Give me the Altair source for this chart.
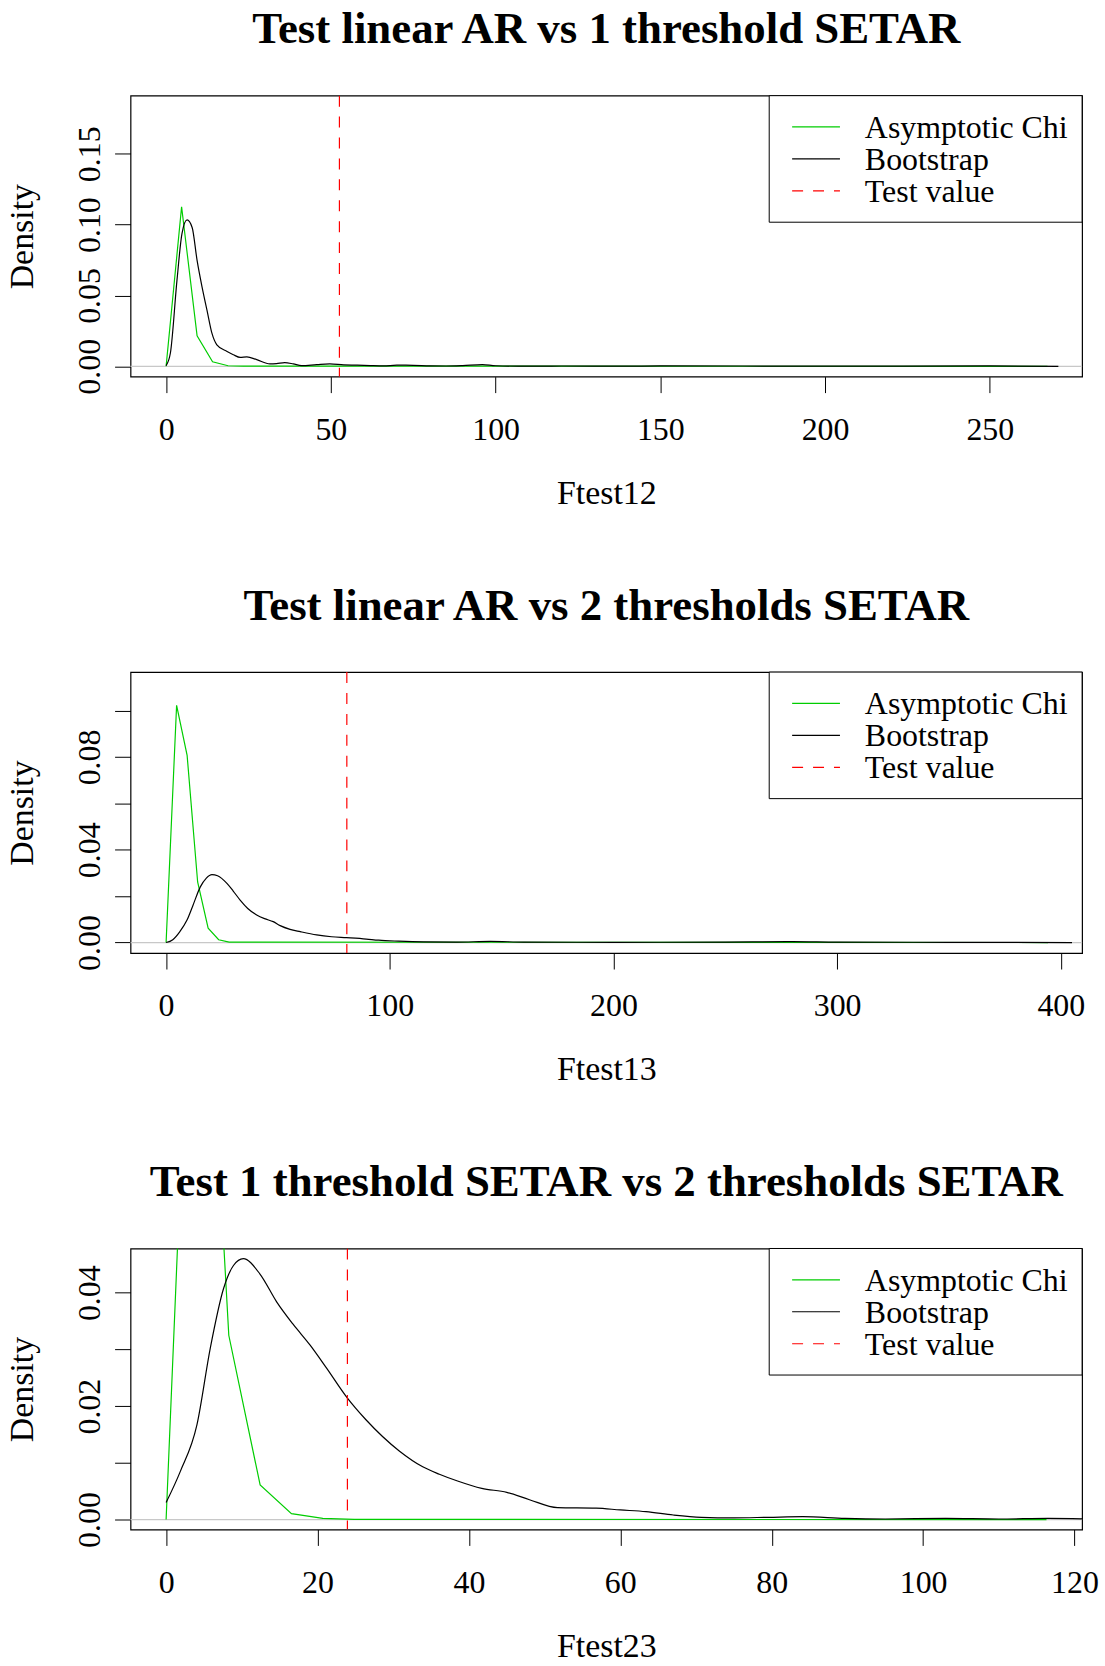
import altair as alt
import pandas as pd

# ---------------- data ----------------
TITLES = ["Test linear AR vs 1 threshold SETAR",
          "Test linear AR vs 2 thresholds SETAR",
          "Test 1 threshold SETAR vs 2 thresholds SETAR"]
XTITLES = ["Ftest12", "Ftest13", "Ftest23"]
LEGEND_LABELS = ["Asymptotic Chi", "Bootstrap", "Test value"]

# Panel 1
GREEN1_X = [0, 4.7, 9.4, 14.1, 18.8, 23.5, 267.5]
GREEN1_Y = [0, 0.1126, 0.0215, 0.0032, 0.0004, 0.0001, 0.0]
BOOT1_X = [0, 1.3, 3.3, 4.8, 6.35, 7.9, 9.4, 10.9, 12.4, 13.9, 15.4, 18.5, 20.4,
           22.5, 24.5, 27.5, 31.5, 33.5, 36.0, 38.6, 41.1, 45.7, 49.7, 53.9, 58,
           62, 66, 70, 75, 80, 85, 90, 96, 100, 110, 120, 140, 150, 200, 250, 270.8]
BOOT1_Y = [0.0005, 0.0094, 0.0608, 0.0935, 0.1033, 0.098, 0.0748, 0.0561, 0.0397,
           0.0234, 0.0152, 0.0105, 0.0082, 0.0063, 0.0066, 0.0047, 0.0017, 0.0019,
           0.0026, 0.0017, 0.0005, 0.0012, 0.0017, 0.0010, 0.0008, 0.0005, 0.0003,
           0.0008, 0.0007, 0.0003, 0.0002, 0.0005, 0.0012, 0.0004, 0.0001, 0.0002,
           0.0001, 0.0003, 0.0001, 0.0003, 0.0]
TEST1 = 52.6

# Panel 2
GREEN2_X = [0, 4.7, 9.4, 14.1, 18.8, 23.5, 28.2, 394.3]
GREEN2_Y = [0, 0.1023, 0.0807, 0.0261, 0.0062, 0.0012, 0.0002, 0.0]
BOOT2_X = [0, 3, 6, 9.35, 12, 15.3, 18, 20.5, 23, 27.2, 30, 33.1, 36.5, 40.5, 44,
           47.9, 51, 55.4, 60, 67.3, 74, 80.6, 89.5, 95, 104, 115, 130, 145, 160,
           200, 250, 280, 300, 350, 405]
BOOT2_Y = [0, 0.0012, 0.0045, 0.0097, 0.016, 0.024, 0.0278, 0.0293, 0.0288, 0.0255,
           0.0222, 0.0183, 0.0147, 0.0119, 0.0103, 0.0090, 0.0073, 0.0057, 0.0047,
           0.0033, 0.0025, 0.0021, 0.0015, 0.0010, 0.0006, 0.0003, 0.0002, 0.0005,
           0.0002, 0.0001, 0.0002, 0.0004, 0.0002, 0.0001, 0.0]
TEST2 = 80.8

# Panel 3
GREEN3_X = [0, 4.14, 8.28, 12.42, 16.56, 20.7, 24.84, 116.3]
GREEN3_Y = [0, 0.132, 0.0325, 0.0061, 0.00105, 0.0002, 0.00003, 0.0]
BOOT3_X = [0, 1.88, 4.07, 5.83, 7.58, 8.9, 10.2, 12.4, 14.6, 16.8, 19.0, 21.2, 23.9,
           26.4, 30.8, 33.9, 36.1, 38.5, 41.7, 45.0, 48, 51.7, 56.8, 60, 63.4, 67,
           70.7, 75, 79.6, 84.1, 89.7, 95, 103, 110, 116.5, 122]
BOOT3_Y = [0.003, 0.0085, 0.0167, 0.0302, 0.0407, 0.0448, 0.046, 0.0433, 0.0384,
           0.0344, 0.0308, 0.0267, 0.0215, 0.0176, 0.0121, 0.0093, 0.0080, 0.0068,
           0.0055, 0.0048, 0.0035, 0.0021, 0.0020, 0.0017, 0.0014, 0.0008, 0.0004,
           0.0003, 0.0004, 0.0005, 0.0002, 0.0001, 0.0002, 0.0001, 0.0002, 0.0001]
TEST3 = 23.95

X_TICKS = [[0, 50, 100, 150, 200, 250], [0, 100, 200, 300, 400],
           [0, 20, 40, 60, 80, 100, 120]]
Y_TICKS = [[0, 0.05, 0.10, 0.15], [0, 0.02, 0.04, 0.06, 0.08, 0.10],
           [0, 0.01, 0.02, 0.03, 0.04]]
Y_LABEL_STEP = [5, 4, 2]  # labels shown every n hundredths
X_DOMAINS = [[-10.8, 278.0], [-15.9, 409.5], [-4.7, 121.0]]
Y_DOMAINS = [[-0.0073, 0.191], [-0.00454, 0.1166], [-0.00175, 0.0478]]

# ---------------- styling ----------------
FONT = "Liberation Serif"
GREEN = "#00cd00"
RED = "#ff0000"
W, H = 955, 282
FS = 34      # axis titles
FSL = 32     # legend text
FSN = 32     # tick numbers


def panel(i, gx, gy, bx, by, test):
    xs = alt.Scale(domain=X_DOMAINS[i], nice=False, zero=False)
    ys = alt.Scale(domain=Y_DOMAINS[i], nice=False, zero=False)
    step = Y_LABEL_STEP[i]
    xax = alt.Axis(values=X_TICKS[i], format="d", title=XTITLES[i], grid=False,
                   domain=False, tickSize=16, tickColor="black", labelFontSize=FSN,
                   labelFont=FONT, labelColor="black", labelPadding=22,
                   labelBaseline="top", titleFontSize=FS, titleFont=FONT,
                   titleFontWeight="normal", titleColor="black", titlePadding=31)
    yax = alt.Axis(values=Y_TICKS[i], title="Density", grid=False, domain=False,
                   tickSize=16, tickColor="black", labelFontSize=FSN, labelFont=FONT,
                   labelColor="black", labelAngle=270, labelAlign="center",
                   labelBaseline="bottom", labelPadding=8,
                   labelExpr=f"round(datum.value*100) % {step} == 0 ? format(datum.value, '.2f') : ''",
                   titleFontSize=FS, titleFont=FONT, titleFontWeight="normal",
                   titleColor="black", titlePadding=34)

    gdf = pd.DataFrame({"x": gx, "y": gy})
    bdf = pd.DataFrame({"x": bx, "y": by})
    one = pd.DataFrame({"x": [test]})

    zero_line = alt.Chart(one).mark_rule(color="#c8c8c8", strokeWidth=1.3).encode(
        y=alt.datum(0, scale=ys, axis=yax))
    green = alt.Chart(gdf).mark_line(color=GREEN, strokeWidth=1.2, clip=True).encode(
        x=alt.X("x:Q", scale=xs, axis=xax), y=alt.Y("y:Q", scale=ys, axis=yax))
    boot = alt.Chart(bdf).mark_line(color="black", strokeWidth=1.2, clip=True,
                                    interpolate="monotone").encode(
        x=alt.X("x:Q", scale=xs, axis=xax), y=alt.Y("y:Q", scale=ys, axis=yax))
    vline = alt.Chart(one).mark_rule(color=RED, strokeWidth=1.2,
                                     strokeDash=[11, 10], clip=True).encode(
        x=alt.X("x:Q", scale=xs, axis=xax))

    # legend drawn inside the plot, top-right
    box = alt.Chart(one).mark_rect(fill="white", stroke="black", strokeWidth=1).encode(
        x=alt.value(641), x2=alt.value(W), y=alt.value(0), y2=alt.value(127))
    leg_layers = [box]
    colors = [GREEN, "black", RED]
    dashes = [[1, 0], [1, 0], [11, 10]]
    for k, lab in enumerate(LEGEND_LABELS):
        ypix = 31.4 + 32.1 * k
        leg_layers.append(alt.Chart(one).mark_rule(
            color=colors[k], strokeWidth=1.2, strokeDash=dashes[k]).encode(
            x=alt.value(664), x2=alt.value(712), y=alt.value(ypix)))
        leg_layers.append(alt.Chart(one).mark_text(
            text=lab, align="left", baseline="middle", fontSize=FSL, font=FONT,
            color="black", clip=True).encode(x=alt.value(737), y=alt.value(ypix + 1)))

    return alt.layer(zero_line, green, boot, vline, *leg_layers).properties(
        width=W, height=H,
        title=alt.TitleParams(TITLES[i], fontSize=45, font=FONT, fontWeight="bold",
                              color="black", anchor="middle", frame="group",
                              offset=43))


p1 = panel(0, GREEN1_X, GREEN1_Y, BOOT1_X, BOOT1_Y, TEST1)
p2 = panel(1, GREEN2_X, GREEN2_Y, BOOT2_X, BOOT2_Y, TEST2)
p3 = panel(2, GREEN3_X, GREEN3_Y, BOOT3_X, BOOT3_Y, TEST3)

chart = alt.vconcat(p1, p2, p3, spacing=71.5).properties(
    padding={"left": 5, "top": 3, "right": 5, "bottom": 0}
).configure(background="white").configure_view(stroke="black", strokeWidth=1.2)

chart.save("out.html", embed_options={"renderer": "svg", "actions": False})
